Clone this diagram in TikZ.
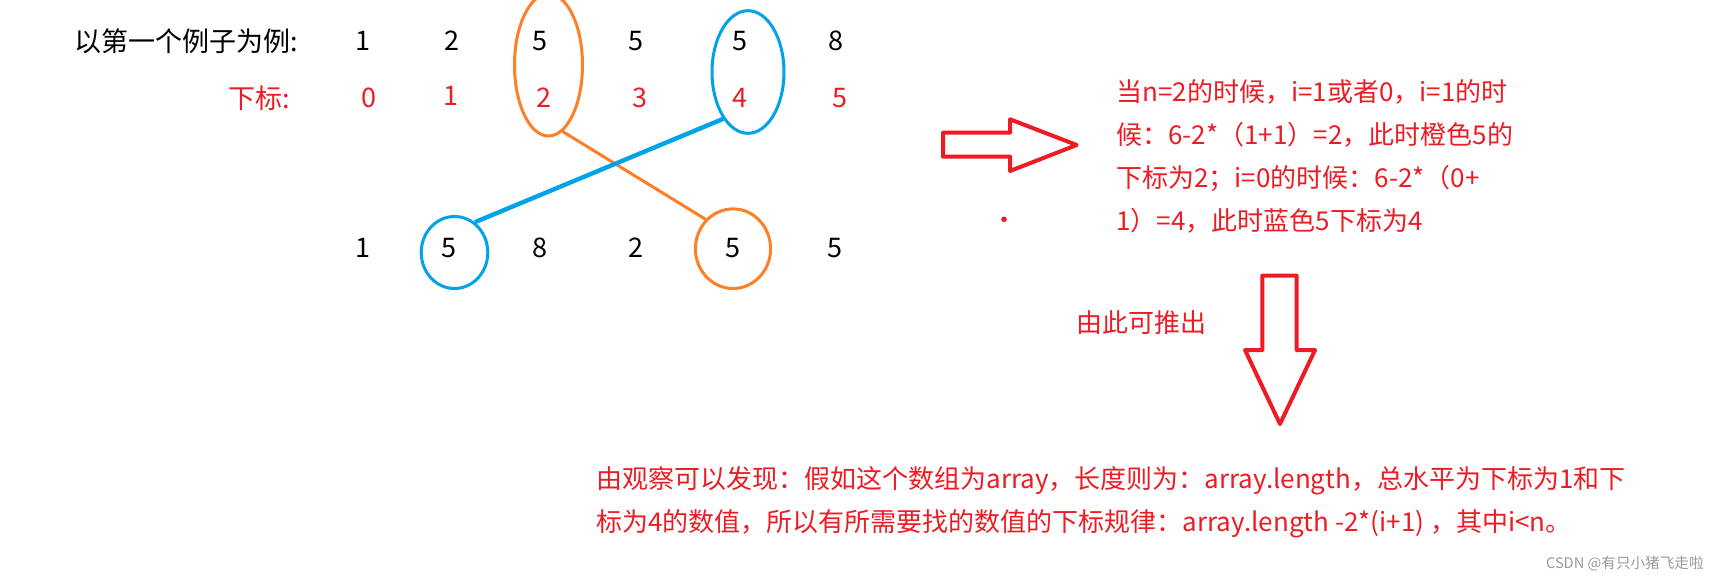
\documentclass[tikz,border=0pt]{standalone}
\usepackage{fontspec}
\setmainfont{Noto Sans CJK SC}
\usetikzlibrary{shapes.geometric}
\definecolor{rojo}{RGB}{237,28,36}
\definecolor{naranja}{RGB}{255,127,39}
\definecolor{azul}{RGB}{0,162,232}
\tikzset{
    num/.style={font=\fontsize{13.5}{16}\selectfont, inner sep=0pt},
    txt/.style={font=\fontsize{13}{21.5}\selectfont, rojo, inner sep=0pt, align=left, anchor=north west},
    elip/.style={ellipse, draw, line width=1.5pt, inner sep=0pt},
    flecha/.style={draw=rojo, line width=2pt, line join=round},
}
\begin{document}
\begin{tikzpicture}[x=0.5pt,y=-0.5pt]
    \useasboundingbox (0,0) rectangle (1726,584);

    %Fila arriba
    \node[num, anchor=west] (tit) at (74,41) {以第一个例子为例:};
    \foreach \x/\v [count=\n] in {363/1,452/2,540/5,636/5,740/5,836/8}{
        \node[num] (t\n) at (\x,41) {\v};
    }
    %Indices
    \node[num, rojo, anchor=west] (sub) at (228,98) {下标:};
    \foreach \x/\y/\v [count=\n] in {369/98/0,451/96/1,544/98/2,640/98/3,740/98/4,840/98/5}{
        \node[num, rojo] (s\n) at (\x,\y) {\v};
    }
    %Fila abajo
    \foreach \x/\v [count=\n] in {363/1,449/5,540/8,636/2,733/5,835/5}{
        \node[num] (b\n) at (\x,248) {\v};
    }

    %Elipses
    \node[elip, naranja, minimum width=34pt, minimum height=71pt] (elipN) at (548.5,65) {};
    \node[elip, azul, minimum width=36pt, minimum height=61.3pt] (elipA) at (748,72) {};
    \node[elip, azul, minimum width=33.3pt, minimum height=36pt] (circA) at (454.5,252.5) {};
    \node[elip, naranja, minimum width=37.6pt, minimum height=39.8pt] (circN) at (733,248.7) {};
    \draw[naranja, line width=1.5pt] (elipN.-78) -- (circN.133);
    \draw[azul, line width=2.2pt] (elipA.242) -- (circA.56);

    %Flechas
    \draw[flecha] (943,132.7) -- (1010,132.7) -- (1010,119.3) -- (1076.7,145)
        -- (1010,171) -- (1010,156.7) -- (943,156.7) -- cycle;
    \fill[rojo] (1004,219.3) circle (1.4pt);
    \draw[flecha] (1262.3,275.7) -- (1296.7,275.7) -- (1296.7,350) -- (1315,350)
        -- (1280,424) -- (1245,350) -- (1262.3,350) -- cycle;

    %Textos
    \node[txt] (expl) at (1116,79) {当n=2的时候，i=1或者0，i=1的时\\候：6-2*（1+1）=2，此时橙色5的\\下标为2；i=0的时候：6-2*（0+\\1）=4，此时蓝色5下标为4};
    \node[font=\fontsize{13}{16}\selectfont, rojo, inner sep=0pt] (dedu) at (1141,322.7) {由此可推出};
    \node[txt, text depth=0pt] (conc) at (596,466) {由观察可以发现：假如这个数组为array，长度则为：array.length，总水平为下标为1和下\\标为4的数值，所以有所需要找的数值的下标规律：array.length -2*(i+1) ，其中i<n。};
    \node[font=\fontsize{7.3}{9}\selectfont, gray!80, anchor=east, inner sep=0pt] (marca) at (1704,564) {CSDN @有只小猪飞走啦};

\end{tikzpicture}
\end{document}
